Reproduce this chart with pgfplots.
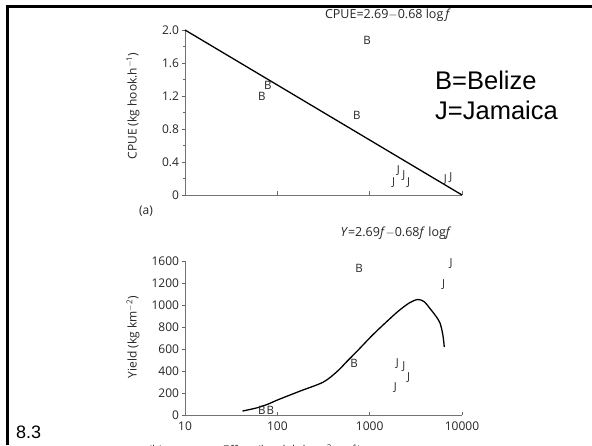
\documentclass[border=0pt]{standalone}
\usepackage{pgfplots}
\pgfplotsset{compat=1.18}
\usepackage{fontspec}
\setmainfont{Open Sans}
\newfontfamily\arial{Liberation Sans}
\begin{document}
\begin{tikzpicture}[x=1pt,y=1pt]
\useasboundingbox (0,0) rectangle (592,445);
\clip (0,0) rectangle (592,445);
\fill[white] (0,0) rectangle (592,445);
\draw[line width=3pt] (7.5,0) -- (7.5,438.5) -- (592,438.5);
% ---------- (a) ----------
\begin{axis}[scale only axis, xmode=log, xmin=10, xmax=10000,
  axis x line*=bottom, axis y line*=left,
  axis line style={-, draw=black!55, line width=0.9pt},
  tick style={draw=black!60, line width=0.7pt},
  major tick length=3.5pt, minor tick length=2pt,
  tick align=outside,
  x tick style={yshift=3.5pt},
  ticklabel style={font=\fontsize{12}{13}\selectfont, text=black!85},
  yticklabel style={xshift=1pt},
  clip=false,
  at={(185pt,250pt)}, anchor=south west, width=277pt, height=165pt,
  ymin=0, ymax=2.0, ytick={0,0.4,0.8,1.2,1.6,2.0},
  yticklabels={0,0.4,0.8,1.2,1.6,2.0},
  minor y tick num=1,
  xtick={100,1000,10000}, xticklabels={}, xminorticks=false]
\addplot[black, line width=1.3pt] coordinates {(10,2.0) (10000,0)};
\addplot[only marks, mark=text, text mark={B}, text mark as node=true,
  text mark style={font=\fontsize{11.5}{12}\selectfont, text=black!85}]
  coordinates {(940,1.88) (79,1.33) (68,1.19) (725,0.97)};
\addplot[only marks, mark=text, text mark={J}, text mark as node=true,
  text mark style={font=\fontsize{11}{12}\selectfont, text=black!85}]
  coordinates {(2040,0.30) (2350,0.24) (1820,0.15) (2640,0.15) (6600,0.19) (7560,0.21)};
\end{axis}
% ---------- (b) ----------
\begin{axis}[scale only axis, xmode=log, xmin=10, xmax=10000,
  axis x line*=bottom, axis y line*=left,
  axis line style={-, draw=black!55, line width=0.9pt},
  tick style={draw=black!60, line width=0.7pt},
  major tick length=3.5pt, minor tick length=2pt,
  tick align=outside,
  x tick style={yshift=3.5pt},
  ticklabel style={font=\fontsize{12}{13}\selectfont, text=black!85},
  yticklabel style={xshift=1pt},
  clip=false,
  at={(185pt,30pt)}, anchor=south west, width=277pt, height=154pt,
  ymin=0, ymax=1400, ytick={0,200,400,600,800,1000,1200,1400},
  yticklabels={0,200,400,600,800,1000,1200,1600},
  xtick={10,100,1000,10000}, xticklabels={10,100,1000,10000}, xminorticks=false]
\addplot[black, line width=1.3pt, smooth] coordinates {
  (42,36) (60,65) (80,100) (100,136) (177,218) (316,300) (450,400) (560,482)
  (750,590) (1000,700) (1290,791) (1990,936) (2700,1020) (3330,1050)
  (3900,1030) (4450,973) (5200,900) (5780,836) (6200,730) (6430,618)};
\addplot[only marks, mark=text, text mark={B}, text mark as node=true,
  text mark style={font=\fontsize{11.5}{12}\selectfont, text=black!85}]
  coordinates {(770,1336) (680,473) (68,45) (84,45)};
\addplot[only marks, mark=text, text mark={J}, text mark as node=true,
  text mark style={font=\fontsize{11}{12}\selectfont, text=black!85}]
  coordinates {(7600,1373) (6300,1182) (2000,464) (2350,436) (2640,336) (1900,245)};
\end{axis}
% ---------- text ----------
\node[font=\fontsize{12.5}{14}\selectfont, text=black!85] at (388,429.5) {CPUE=2.69$-$0.68 log\,\textit{f}};
\node[font=\fontsize{12.5}{14}\selectfont, text=black!85] at (396,212) {\textit{Y}=2.69\textit{f}$-$0.68\textit{f} log\textit{f}};
\node[rotate=90, font=\fontsize{12}{13}\selectfont, text=black!85] at (133,339) {CPUE (kg hook.h\textsuperscript{$-$1})};
\node[rotate=90, font=\fontsize{12}{13}\selectfont, text=black!85] at (133,108) {Yield (kg km\textsuperscript{$-$2})};
\node[font=\fontsize{12}{13}\selectfont, text=black!85] at (146,234) {(a)};
\node[anchor=west, inner sep=0pt, font=\arial\fontsize{25.5}{30}\selectfont] at (435,365) {B=Belize};
\node[anchor=west, inner sep=0pt, font=\arial\fontsize{25.5}{30}\selectfont] at (435,335) {J=Jamaica};
\node[anchor=west, inner sep=0pt, font=\arial\fontsize{18}{20}\selectfont] at (16,13) {8.3};
\node[anchor=north west, font=\fontsize{12}{13}\selectfont, text=black!85] at (145,4) {(b)\qquad\qquad\quad Effort (hook.h km\textsuperscript{$-$2} yr\textsuperscript{$-$1})};
\end{tikzpicture}
\end{document}
